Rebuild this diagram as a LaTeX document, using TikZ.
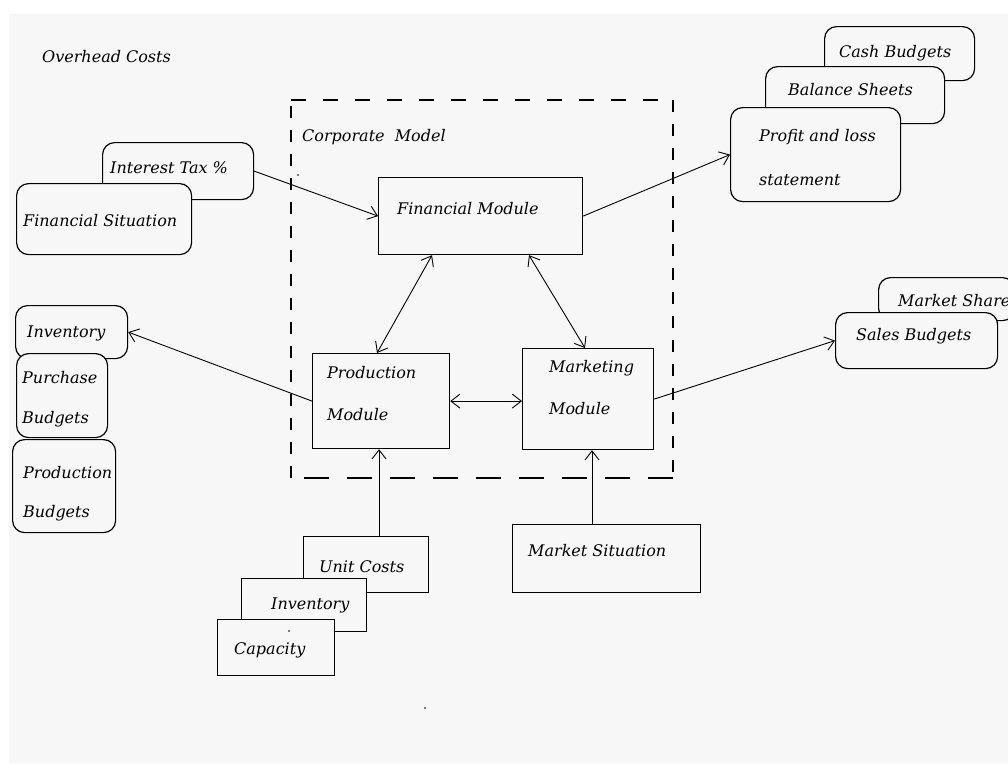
\documentclass[tikz,border=0pt]{standalone}
\usepackage{fontspec}
\setmainfont{DejaVu Serif}
\usetikzlibrary{arrows.meta,calc}
\definecolor{bg}{HTML}{F7F7F7}
\tikzset{
  box/.style={draw, line width=1.2pt, fill=bg, inner sep=0pt, anchor=north west},
  rbox/.style={box, rounded corners=12pt},
  lbl/.style={anchor=west, inner sep=0pt, font=\itshape\fontsize{16}{18}\selectfont},
  arr/.style={line width=0.9pt, -{Straight Barb[length=9pt,width=14pt]}},
  darr/.style={line width=0.9pt, {Straight Barb[length=9pt,width=14pt]}-{Straight Barb[length=9pt,width=14pt]}},
  dot/.style={fill=black, inner sep=0pt, minimum size=1.6pt, circle},
}
\begin{document}
\begin{tikzpicture}[x=1pt,y=-1pt]
\useasboundingbox (0,0) rectangle (1008,763);
\clip (0,0) rectangle (1008,763);
\fill[white] (0,0) rectangle (1008,763);
\fill[bg] (9,14) rectangle (1008,763);

% title
\node[lbl] (overhead) at (42,57) {Overhead Costs};

% corporate model dashed frame
\draw[line width=1.2pt, dash pattern=on 15pt off 17pt] (291,100) -- (673,100);
\draw[line width=1.2pt, dash pattern=on 12pt off 12pt] (673,100) -- (673,478);
\draw[line width=1.2pt, dash pattern=on 25pt off 18pt] (673,478) -- (291,478);
\draw[line width=1.2pt, dash pattern=on 12pt off 12pt] (291,478) -- (291,100);
\node[lbl] (corp) at (302,137) {Corporate\ \ Model};

% modules
\node[box, minimum width=204pt, minimum height=77pt] (fin) at (378,177) {};
\node[lbl] (finl) at (397,209) {Financial Module};
\node[box, minimum width=137pt, minimum height=95pt] (prod) at (312,353) {};
\node[lbl] (prodl1) at (327,373) {Production};
\node[lbl] (prodl2) at (327,415) {Module};
\node[box, minimum width=131pt, minimum height=101pt] (mkt) at (522,348) {};
\node[lbl] (mktl1) at (549,368) {Marketing};
\node[lbl] (mktl2) at (549,409) {Module};

% top-left stack
\node[rbox, minimum width=151pt, minimum height=57pt] (intr) at (102,142) {};
\node[lbl] (intrl) at (110,168) {Interest Tax \%};
\node[rbox, minimum width=175pt, minimum height=71pt] (fsit) at (16,183) {};
\node[lbl] (fsitl) at (23,221) {Financial Situation};

% top-right stack
\node[rbox, minimum width=150pt, minimum height=54pt] (cash) at (824,26) {};
\node[lbl] (cashl) at (839,53) {Cash Budgets};
\node[rbox, minimum width=179pt, minimum height=57pt] (bal) at (765,66) {};
\node[lbl] (ball) at (788,90) {Balance Sheets};
\node[rbox, minimum width=170pt, minimum height=94pt] (pl) at (730,107) {};
\node[lbl] (pll1) at (759,137) {Profit and loss};
\node[lbl] (pll2) at (759,180) {statement};

% right stack
\node[rbox, minimum width=136pt, minimum height=43pt] (share) at (878,277) {};
\node[lbl] (sharel) at (898,301) {Market Share};
\node[rbox, minimum width=162pt, minimum height=56pt] (sales) at (835,312) {};
\node[lbl] (salesl) at (856,336) {Sales Budgets};

% left stack
\node[rbox, minimum width=112pt, minimum height=53pt] (inv) at (15,305) {};
\node[lbl] (invl) at (27,333) {Inventory};
\node[rbox, minimum width=91pt, minimum height=84pt] (purch) at (16,353) {};
\node[lbl] (purchl1) at (22,378) {Purchase};
\node[lbl] (purchl2) at (22,419) {Budgets};
\node[rbox, minimum width=103pt, minimum height=93pt] (pbud) at (12,439) {};
\node[lbl] (pbudl1) at (23,473) {Production};
\node[lbl] (pbudl2) at (23,513) {Budgets};

% bottom stack
\node[box, minimum width=125pt, minimum height=56pt] (unit) at (303,536) {};
\node[lbl] (unitl) at (319,567) {Unit Costs};
\node[box, minimum width=125pt, minimum height=53pt] (binv) at (241,578) {};
\node[lbl] (binvl) at (271,605) {Inventory};
\node[box, minimum width=117pt, minimum height=56pt] (cap) at (217,619) {};
\node[lbl] (capl) at (234,650) {Capacity};

% market situation
\node[box, minimum width=188pt, minimum height=68pt] (msit) at (512,524) {};
\node[lbl] (msitl) at (528,551) {Market Situation};

% connectors
\draw[arr] (intr.east) -- (fin.west);
\draw[arr] (fin.east) -- (pl.west);
\draw[arr] (prod.west) -- (inv.east);
\draw[arr] (mkt.east) -- (sales.west);
\draw[darr] ([xshift=54pt]fin.south west) -- ([xshift=65pt]prod.north west);
\draw[darr] ([xshift=151pt]fin.south west) -- ([xshift=63pt]mkt.north west);
\draw[darr] (prod.east) -- (prod.east -| mkt.west);
\coordinate (u1) at ([xshift=76pt]unit.north west);
\draw[arr] (u1) -- (u1 |- prod.south);
\coordinate (m1) at ([xshift=80pt]msit.north west);
\draw[arr] (m1) -- (m1 |- mkt.south);

% stray dots
\node[dot] (d1) at (298,175) {};
\node[dot] (d2) at (289,631) {};
\node[dot] (d3) at (425,708) {};
\end{tikzpicture}
\end{document}
